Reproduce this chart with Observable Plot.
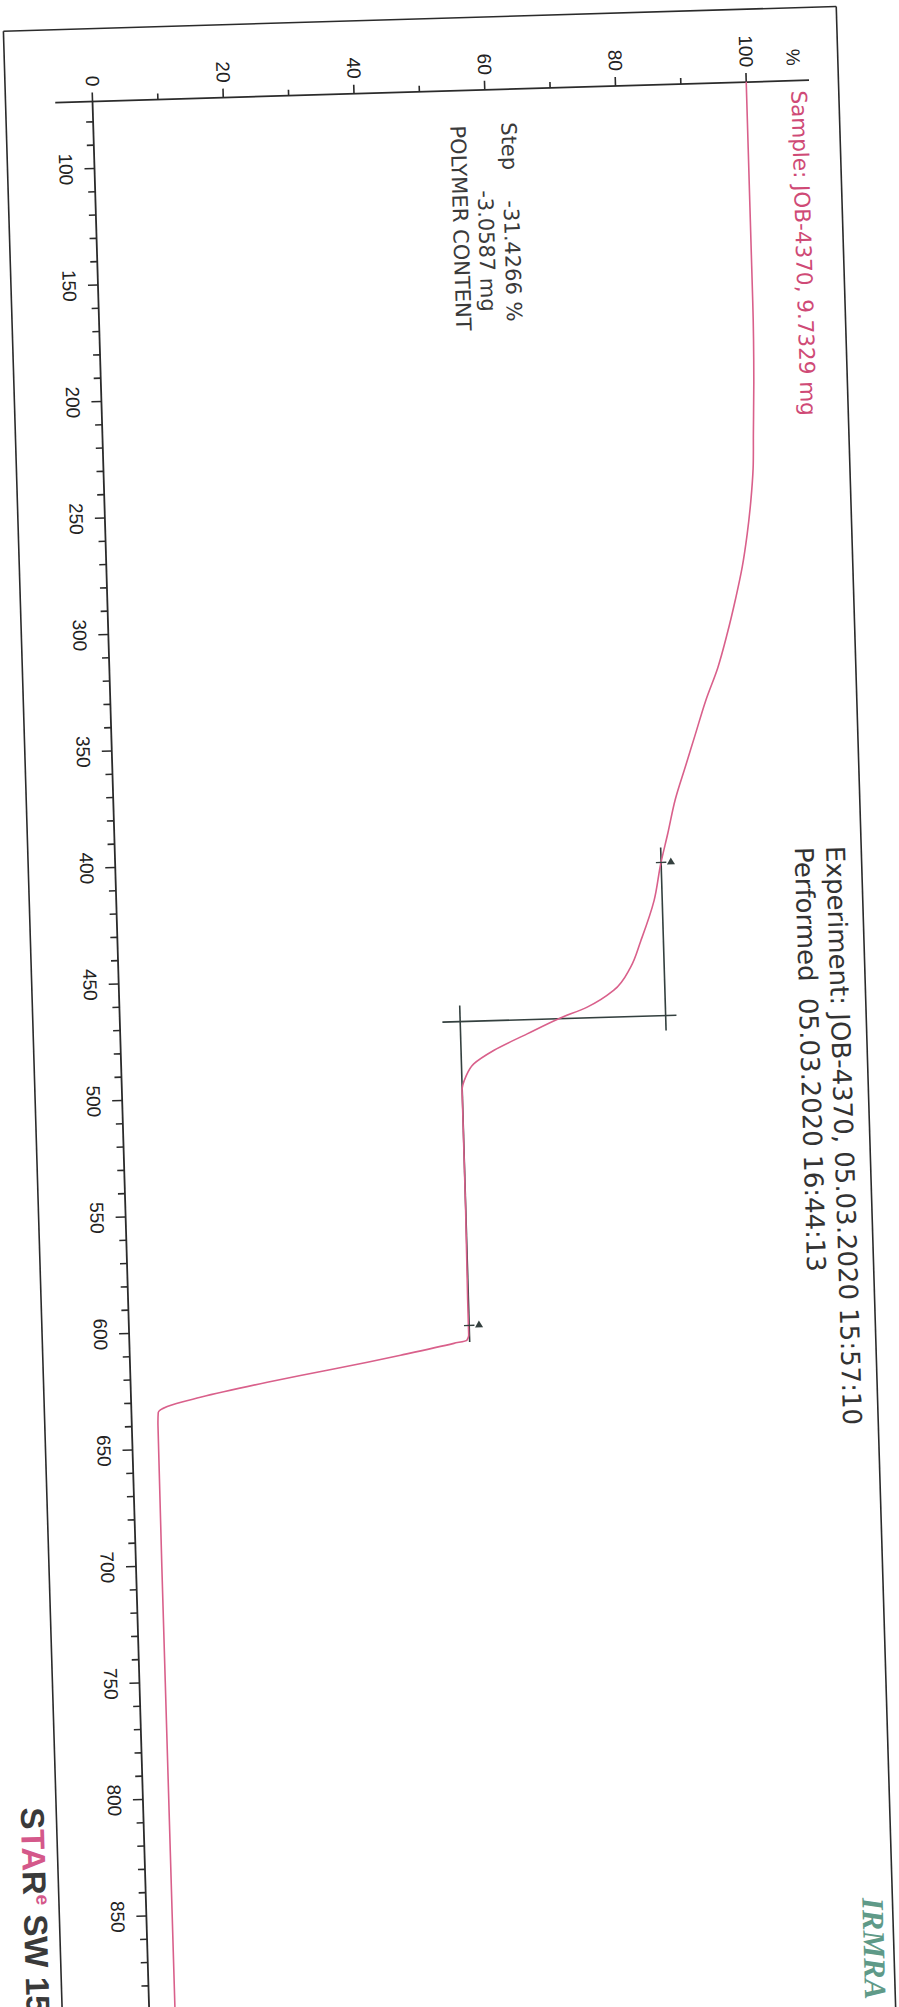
<!DOCTYPE html>
<html><head><meta charset="utf-8">
<script src="https://cdn.jsdelivr.net/npm/d3@7"></script>
<script src="https://cdn.jsdelivr.net/npm/@observablehq/plot@0.6"></script>
<style>
html,body{margin:0;padding:0;background:#fff;overflow:hidden;width:899px;height:2007px;}
#wrap{position:relative;width:899px;height:2007px;overflow:hidden;background:#fff;}
#wrap svg{position:absolute;left:0;top:0;overflow:visible;transform-origin:92px 101px;transform:rotate(-1.7deg);max-width:none;background:transparent;}
#wrap svg text{white-space:pre;}
</style></head><body><div id="wrap"></div>
<script>
// ---- data (TGA curve: temperature °C vs mass %) ----
const tempC = [71.4, 100, 150, 165, 200, 222, 237, 251, 265, 279, 293, 307.5, 322, 336, 350, 364, 378, 392.5, 405.2, 421.1, 438.1, 449.4, 459.1, 465.9, 470.5, 476.6, 483.3, 488.8, 494.4, 500.1, 505, 550, 590, 605, 607.2, 608.4, 612.8, 615.4, 620.2, 622.7, 628.3, 631.8, 634.3, 640, 700, 800, 900];
const massPct = [100, 100, 100, 100, 99.8, 99.5, 99.3, 98.8, 98.1, 97.2, 96.0, 94.6, 93.0, 91.0, 89.3, 87.6, 85.9, 84.6, 83.4, 82.2, 80.0, 78.3, 75.6, 71.5, 67.1, 62.2, 57.0, 53.9, 52.6, 52.0, 52.0, 52.0, 51.9, 51.9, 51.6, 49.6, 41.4, 36.3, 26.0, 20.9, 10.6, 5.5, 4.1, 4.0, 3.95, 3.95, 3.95];

// step evaluation
const stepUpperPct = 83.45, stepLowerPct = 52.02, stepInflectionC = 470.5;
const stepLimitsC = [404.8, 600.9];

// axis ticks and labels
const tempTickLabels = ["100","150","200","250","300","350","400","450","500","550","600","650","700","750","800","850"];
const pctTickLabels = ["0","20","40","60","80","100"];
const pctMinorTicks = [10, 30, 50, 70, 90];

// texts
const sampleLabel = "Sample: JOB-4370, 9.7329 mg";
const stepLabels = ["Step", "-31.4266 %", "-3.0587 mg", "POLYMER CONTENT"];
const experimentLabel = "Experiment: JOB-4370, 05.03.2020 15:57:10";
const performedLabel = "Performed  05.03.2020 16:44:13";
const unitLabel = "%";
const logoLabel = "IRMRA";
const starLabel = "STARe SW 15";

// ---- layout ----
const W = 899, H = 2100;
const OX = 92, OY = 101, PX_PCT = 6.54, PX_C = 2.331, T0 = 71.26;
const xDomain = [-OX / PX_PCT, (W - OX) / PX_PCT];
const yDomain = [T0 - OY / PX_C, T0 + (H - OY) / PX_C];

const curve = tempC.map((t, i) => ({temp: t, pct: massPct[i]}));

const frame = [
  {x1: -13.3, y1: 40, x2: 114.1, y2: 40},
  {x1: -13.3, y1: 40, x2: -13.3, y2: 940},
  {x1: 114.1, y1: 40, x2: 114.1, y2: 940}
];
const axes = [
  {x1: -5.7, y1: T0, x2: 109.6, y2: T0},
  {x1: 0, y1: T0, x2: 0, y2: 940}
];
const tempMajor = [...tempTickLabels.map(Number), 900];
const tempMinor = d3.range(80, 900, 10).filter(v => v % 50 !== 0);
const tempTicks = [
  ...tempMajor.map(t => ({x1: -10 / PX_PCT, x2: 0, y1: t, y2: t})),
  ...tempMinor.map(t => ({x1: -7 / PX_PCT, x2: 0, y1: t, y2: t}))
];
const pctTicks = [
  ...pctTickLabels.map(Number).map(p => ({x1: p, x2: p, y1: T0 - 9 / PX_C, y2: T0})),
  ...pctMinorTicks.map(p => ({x1: p, x2: p, y1: T0 - 6 / PX_C, y2: T0}))
];
const stepLines = [
  {x1: stepUpperPct, y1: 398.4, x2: stepUpperPct, y2: 476.9},
  {x1: stepLowerPct, y1: 463.6, x2: stepLowerPct, y2: 608},
  {x1: 49.3, y1: stepInflectionC, x2: 85.1, y2: stepInflectionC}
];
const markers = [{T: stepLimitsC[0], p: stepUpperPct}, {T: stepLimitsC[1], p: stepLowerPct}];
const markerTicks = markers.map(m => ({x1: m.p - 0.8, x2: m.p + 0.8, y1: m.T, y2: m.T}));

const stepTexts = [
  {text: stepLabels[0], p: 63.4, t: 85.5},
  {text: stepLabels[1], p: 63.4, t: 119.0},
  {text: stepLabels[2], p: 59.5, t: 114.3},
  {text: stepLabels[3], p: 55.6, t: 86.2}
];
const infoTexts = [
  {text: experimentLabel, p: 110.0, t: 400},
  {text: performedLabel, p: 105.2, t: 400}
];

const DARK = "#2b2b2b", STEP = "#34403f", PINK = "#d9608b", PINKTXT = "#cf4a76";
const SANS = "DejaVu Sans, Verdana, sans-serif";
const ARIAL = "Liberation Sans, Arial, sans-serif";

const svg = Plot.plot({
  width: W, height: H,
  margin: 0,
  x: {type: "linear", domain: xDomain, range: [0, W], axis: null},
  y: {type: "linear", domain: yDomain, range: [0, H], axis: null},
  marks: [
    Plot.link(frame, {x1: "x1", y1: "y1", x2: "x2", y2: "y2", stroke: DARK, strokeWidth: 1.6}),
    Plot.link(axes, {x1: "x1", y1: "y1", x2: "x2", y2: "y2", stroke: DARK, strokeWidth: 1.8}),
    Plot.link(tempTicks, {x1: "x1", y1: "y1", x2: "x2", y2: "y2", stroke: DARK, strokeWidth: 1.6}),
    Plot.link(pctTicks, {x1: "x1", y1: "y1", x2: "x2", y2: "y2", stroke: DARK, strokeWidth: 1.6}),
    Plot.text(tempTickLabels, {x: () => -4.45, y: d => +d, text: d => d, rotate: 90, textAnchor: "middle", lineAnchor: "middle", fontSize: 19, fontFamily: ARIAL, fill: "#222"}),
    Plot.text(pctTickLabels, {x: d => +d, y: () => 64.8, text: d => d, rotate: 90, textAnchor: "end", lineAnchor: "middle", fontSize: 19, fontFamily: ARIAL, fill: "#222"}),
    Plot.text([unitLabel], {x: () => 107.2, y: () => 64.8, text: d => d, rotate: 90, textAnchor: "end", lineAnchor: "middle", fontSize: 19, fontFamily: ARIAL, fill: "#222"}),
    Plot.link(stepLines, {x1: "x1", y1: "y1", x2: "x2", y2: "y2", stroke: STEP, strokeWidth: 1.6}),
    Plot.line(curve, {x: "pct", y: "temp", curve: "monotone-y", stroke: PINK, strokeWidth: 1.6}),
    Plot.link(markerTicks, {x1: "x1", y1: "y1", x2: "x2", y2: "y2", stroke: STEP, strokeWidth: 1.4}),
    Plot.dot(markers, {x: d => d.p + 1.5, y: d => d.T, symbol: "triangle", r: 3, fill: STEP, stroke: "none"}),
    Plot.text([sampleLabel], {x: () => 107.9, y: () => 75.5, text: d => d, rotate: 90, textAnchor: "start", lineAnchor: "middle", fontSize: 21.5, fontFamily: SANS, fill: PINKTXT}),
    Plot.text(stepTexts, {x: "p", y: "t", text: "text", rotate: 90, textAnchor: "start", lineAnchor: "middle", fontSize: 21, fontFamily: SANS, fill: "#3a3a3a"}),
    Plot.text(infoTexts, {x: "p", y: "t", text: "text", rotate: 90, textAnchor: "start", lineAnchor: "middle", fontSize: 26, fontFamily: SANS, fill: "#333"}),
    Plot.text([logoLabel], {x: () => 111.0, y: () => 851.4, text: d => d, rotate: 90, textAnchor: "start", lineAnchor: "middle", fontSize: 31, fontFamily: "Liberation Serif, Times New Roman, serif", fontWeight: "bold", fontStyle: "italic", fill: "#5f9a88"}),
    Plot.text([starLabel], {x: () => -17.1, y: () => 802, text: d => d, rotate: 90, textAnchor: "start", lineAnchor: "middle", fontSize: 33, fontFamily: ARIAL, fontWeight: "bold", fill: "#3a3a3a"})
  ]
});

// multi-colour STARe logo text
d3.select(svg).selectAll("text").filter(function() { return this.textContent === starLabel; }).each(function() {
  const el = d3.select(this);
  el.text(null);
  const parts = [
    {t: "S", c: "#3a3a3a"},
    {t: "TA", c: "#d4588a"},
    {t: "R", c: "#3a3a3a"},
    {t: "e", c: "#d4588a", sup: true},
    {t: " SW 15", c: "#3a3a3a", after: true}
  ];
  parts.forEach(p => {
    const ts = el.append("tspan").attr("fill", p.c).text(p.t);
    if (p.sup) ts.attr("font-size", 19).attr("dy", -13);
    if (p.after) ts.attr("dy", 13);
  });
});

document.getElementById("wrap").appendChild(svg);
</script></body></html>
